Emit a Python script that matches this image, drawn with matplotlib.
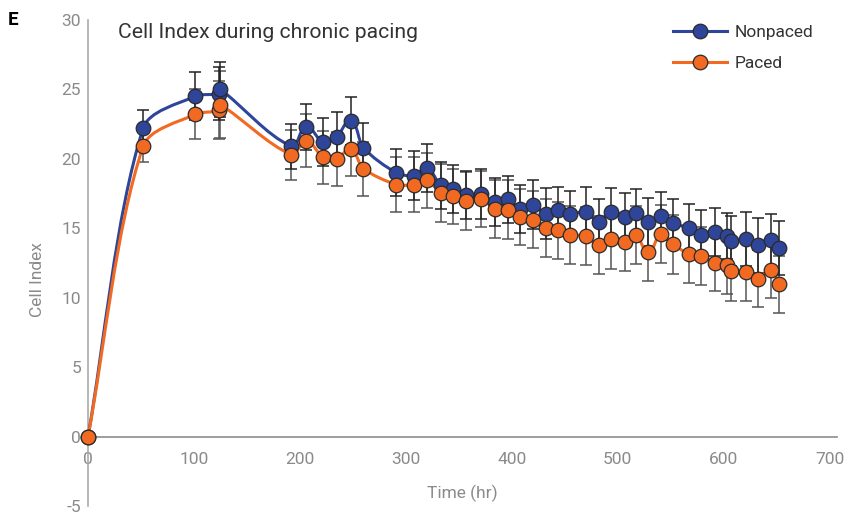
import numpy as np
from matplotlib import pyplot as plt
from matplotlib.path import Path
from matplotlib.patches import PathPatch
from matplotlib.lines import Line2D

plt.rcParams['font.family'] = ['Roboto', 'DejaVu Sans']
plt.rcParams['axes.unicode_minus'] = False

# values
time_hr = [0, 52, 101, 124, 125, 192, 206, 222, 235, 248, 260,
           291, 308, 320, 333, 345, 357, 371, 384, 396, 408, 420, 432,
           444, 455, 470, 482, 494, 507, 517, 529, 541, 552,
           567, 579, 592, 603, 607, 621, 632, 645, 652]

nonpaced = [0, 22.2, 24.5, 24.7, 25.0, 20.9, 22.3, 21.2, 21.6, 22.7, 20.8,
            19.0, 18.8, 19.35, 18.1, 17.85, 17.4, 17.45, 16.9, 17.1, 16.4, 16.7, 16.05,
            16.3, 16.0, 16.2, 15.45, 16.2, 15.8, 16.1, 15.45, 15.9, 15.38,
            15.02, 14.54, 14.73, 14.44, 14.06, 14.25, 13.77, 14.13, 13.58]
nonpaced_err = [0, 1.3, 1.73, 1.9, 2.0, 1.63, 1.68, 1.75, 1.75, 1.73, 1.78,
                1.7, 1.73, 1.75, 1.7, 1.73, 1.7, 1.8, 1.7, 1.7, 1.73, 1.75, 1.85,
                1.7, 1.7, 1.75, 1.68, 1.73, 1.75, 1.75, 1.73, 1.73, 1.75,
                1.75, 1.8, 1.73, 1.68, 1.8, 1.95, 1.97, 1.92, 1.92]

paced = [0, 20.9, 23.2, 23.5, 23.9, 20.3, 21.3, 20.1, 20.0, 20.7, 19.3,
         18.15, 18.15, 18.45, 17.55, 17.3, 16.95, 17.1, 16.4, 16.35, 15.8, 15.6, 15.0,
         14.85, 14.5, 14.45, 13.8, 14.2, 14.0, 14.5, 13.3, 14.6, 13.84,
         13.17, 13.0, 12.52, 12.33, 11.9, 11.85, 11.37, 11.97, 10.96]
paced_err = [0, 1.15, 1.8, 2.1, 2.4, 1.8, 1.9, 1.9, 1.92, 1.92, 1.95,
             2.0, 2.0, 2.0, 2.07, 2.0, 2.1, 2.0, 2.1, 2.1, 2.0, 2.05, 2.1,
             2.04, 2.1, 2.1, 2.07, 2.1, 2.1, 2.1, 2.1, 2.08, 2.1,
             2.1, 2.07, 2.04, 2.08, 2.16, 2.1, 2.04, 2.0, 2.04]

blue = '#2e4599'
orange = '#f26a21'
grey = '#8c8c8c'


def smooth_path(ax, xs, ys, tension=0.9):
    # smoothed line like a spreadsheet chart: bezier segments whose handles
    # follow the neighbour direction, sized by the segment length on screen
    to_px = ax.transData
    pts = to_px.transform(np.column_stack([xs, ys]))
    n = len(pts)
    tang = []
    for i in range(n):
        v = pts[min(i + 1, n - 1)] - pts[max(i - 1, 0)]
        tang.append(v / np.hypot(*v))
    verts = [pts[0]]
    codes = [Path.MOVETO]
    for i in range(n - 1):
        d = np.hypot(*(pts[i + 1] - pts[i])) * tension / 3
        verts += [pts[i] + tang[i] * d, pts[i + 1] - tang[i + 1] * d, pts[i + 1]]
        codes += [Path.CURVE4] * 3
    verts = to_px.inverted().transform(np.array(verts))
    return Path(verts, codes)


fig = plt.figure(figsize=(8.48, 5.14), dpi=100)
ax = fig.add_axes([88 / 848, 8 / 514, (837 - 88) / 848, (506 - 20) / 514])
ax.set_xlim(0, 707)
ax.set_ylim(-5, 30)

ax.errorbar(time_hr, paced, yerr=paced_err, fmt='none', ecolor='#555555',
            elinewidth=1.1, capsize=4.5, capthick=1.1, zorder=2)
ax.errorbar(time_hr, nonpaced, yerr=nonpaced_err, fmt='none', ecolor='#222222',
            elinewidth=1.1, capsize=4.5, capthick=1.1, zorder=2.1)

ax.add_patch(PathPatch(smooth_path(ax, time_hr, nonpaced), facecolor='none',
                       edgecolor=blue, lw=2.2, zorder=3))
ax.add_patch(PathPatch(smooth_path(ax, time_hr, paced), facecolor='none',
                       edgecolor=orange, lw=2.2, zorder=3.1))

ax.plot(time_hr, nonpaced, 'o', ms=10.5, mfc=blue, mec='#2b2b2b', mew=0.9,
        zorder=4, clip_on=False)
ax.plot(time_hr, paced, 'o', ms=10.5, mfc=orange, mec='#2b2b2b', mew=0.9,
        zorder=5, clip_on=False)

ax.set_xticks(range(0, 701, 100))
ax.set_yticks(range(-5, 31, 5))

for s in ['top', 'right']:
    ax.spines[s].set_visible(False)
ax.spines['bottom'].set_position(('data', 0))
ax.spines['bottom'].set_color(grey)
ax.spines['left'].set_color('#aaaaaa')
ax.spines['bottom'].set_linewidth(1.2)
ax.spines['left'].set_linewidth(1.2)
ax.tick_params(axis='both', length=0, labelsize=12.5, labelcolor='#8a8a8a')
ax.tick_params(axis='x', pad=11)
ax.tick_params(axis='y', pad=5)

fig.text(118 / 848, 1 - 32 / 514, 'Cell Index during chronic pacing',
         fontsize=15.2, color='#333333', va='center', ha='left')
fig.text(8 / 848, 1 - 20 / 514, 'E', fontsize=13.5, fontweight='bold',
         color='black', va='center', ha='left')
fig.text(38 / 848, 1 - 280 / 514, 'Cell Index', rotation=90, fontsize=12.5,
         color='#8a8a8a', va='center', ha='center')
fig.text(462 / 848, 1 - 493 / 514, 'Time (hr)', fontsize=12.5,
         color='#8a8a8a', va='center', ha='center')

handles = [
    Line2D([], [], color=blue, lw=2.2, marker='o', ms=10.5, mfc=blue, mec='#2b2b2b', mew=0.9),
    Line2D([], [], color=orange, lw=2.2, marker='o', ms=10.5, mfc=orange, mec='#2b2b2b', mew=0.9),
]
ax.legend(handles, ['Nonpaced', 'Paced'], loc='upper left',
          bbox_to_anchor=(664 / 848, 1 - 16 / 514), bbox_transform=fig.transFigure,
          frameon=False, borderpad=0, handlelength=3.1, handletextpad=0.45,
          labelspacing=0.9, fontsize=12.5, labelcolor='#333333')

fig.savefig('out.png', dpi=100)
